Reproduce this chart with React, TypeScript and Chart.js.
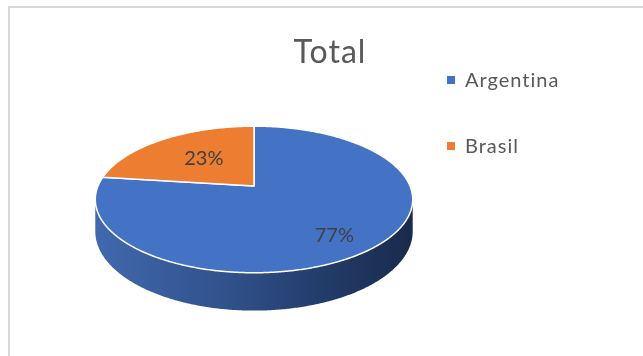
import React, { useEffect, useRef } from "react";
import { Chart, registerables } from "chart.js";

Chart.register(...registerables);

// ---- data ----
const categories: string[] = ["Argentina", "Brasil"];
const values: number[] = [77, 23];
const sliceColors: string[] = ["#4472C4", "#ED7D31"];
const sideStops: string[][] = [
  ["#4169ae", "#2f4f88", "#213a66", "#1a2a4c"],
  ["#d2722f", "#b15f26", "#8a481c", "#703a16"],
];
const titleText = "Total";

// ---- 3D projection parameters ----
const PERSP = 0.1837; // perspective strength
const FLAT = 0.454; // vertical flattening of the disk
const DEPTH = 0.198; // thickness relative to radius

function proj(cx: number, cy: number, R: number, a: number, f: number, drop: number) {
  const u = f * Math.cos(a);
  const d = f * Math.sin(a);
  const s = 1 / (1 - PERSP * d);
  return { x: cx + R * u * s, y: cy + FLAT * R * d * s + drop * R * s };
}

const pie3d = {
  id: "pie3d",
  beforeDatasetsDraw(chart: any, _args: any, opts: any) {
    const ctx: CanvasRenderingContext2D = chart.ctx;
    const meta = chart.getDatasetMeta(0);
    const arcs = meta.data as any[];
    if (!arcs.length) return false;
    const cx = arcs[0].x;
    const cy = arcs[0].y;
    const R = arcs[0].outerRadius;
    const lo = Math.asin(PERSP);
    const hi = Math.PI - lo;
    const step = Math.PI / 360;

    ctx.save();
    // side walls
    arcs.forEach((arc: any, i: number) => {
      const s = Math.max(arc.startAngle, lo);
      const e = Math.min(arc.endAngle, hi);
      if (e <= s) return;
      const g = ctx.createLinearGradient(cx - R * 1.02, 0, cx + R * 1.02, 0);
      const stops = sideStops[i % sideStops.length];
      g.addColorStop(0, stops[0]);
      g.addColorStop(0.45, stops[1]);
      g.addColorStop(0.75, stops[2]);
      g.addColorStop(1, stops[3]);
      ctx.beginPath();
      let p = proj(cx, cy, R, s, 1, 0);
      ctx.moveTo(p.x, p.y);
      for (let a = s; a <= e; a += step) {
        p = proj(cx, cy, R, a, 1, 0);
        ctx.lineTo(p.x, p.y);
      }
      p = proj(cx, cy, R, e, 1, 0);
      ctx.lineTo(p.x, p.y);
      for (let a = e; a >= s; a -= step) {
        p = proj(cx, cy, R, a, 1, DEPTH);
        ctx.lineTo(p.x, p.y);
      }
      p = proj(cx, cy, R, s, 1, DEPTH);
      ctx.lineTo(p.x, p.y);
      ctx.closePath();
      ctx.fillStyle = g;
      ctx.fill();
    });

    // top faces
    arcs.forEach((arc: any, i: number) => {
      ctx.beginPath();
      const v = proj(cx, cy, R, 0, 0, 0);
      ctx.moveTo(v.x, v.y);
      for (let a = arc.startAngle; a <= arc.endAngle; a += step) {
        const p = proj(cx, cy, R, a, 1, 0);
        ctx.lineTo(p.x, p.y);
      }
      const pe = proj(cx, cy, R, arc.endAngle, 1, 0);
      ctx.lineTo(pe.x, pe.y);
      ctx.closePath();
      ctx.fillStyle = sliceColors[i % sliceColors.length];
      ctx.fill();
      ctx.lineWidth = 1.5;
      ctx.lineJoin = "round";
      ctx.strokeStyle = "#ffffff";
      ctx.stroke();
    });

    // data labels
    const total = values.reduce((s, v) => s + v, 0);
    ctx.font = "20px Lato";
    ctx.fillStyle = "#404040";
    ctx.textAlign = "center";
    ctx.textBaseline = "alphabetic";
    arcs.forEach((arc: any, i: number) => {
      const mid = (arc.startAngle + arc.endAngle) / 2;
      const p = proj(cx, cy, R, mid, 0.75, 0);
      const n = (opts.labelNudge && opts.labelNudge[i]) || [0, 0];
      const pct = Math.round((values[i] / total) * 100) + "%";
      ctx.fillText(pct, p.x + n[0], p.y + n[1]);
    });

    // title
    (ctx as any).letterSpacing = "1px";
    ctx.font = "32px Lato";
    ctx.fillStyle = "#595959";
    ctx.textAlign = "center";
    ctx.fillText(titleText, opts.titleX, opts.titleY);

    // legend
    (ctx as any).letterSpacing = "1px";
    ctx.font = "20px Lato";
    ctx.textAlign = "left";
    categories.forEach((c, i) => {
      const y = opts.legendY + i * opts.legendGap;
      ctx.fillStyle = sliceColors[i % sliceColors.length];
      ctx.fillRect(opts.legendX, y - 4, 8, 8);
      ctx.fillStyle = "#595959";
      ctx.fillText(c, opts.legendX + 18, y + 7);
    });
    (ctx as any).letterSpacing = "0px";
    ctx.restore();
    return false;
  },
};

export default function App() {
  const ref = useRef<HTMLCanvasElement | null>(null);
  useEffect(() => {
    if (!ref.current) return;
    const chart = new Chart(ref.current, {
      type: "pie",
      data: {
        labels: categories,
        datasets: [
          {
            data: values,
            backgroundColor: sliceColors,
            borderWidth: 0,
          },
        ],
      },
      options: {
        responsive: false,
        animation: false,
        events: [],
        layout: { padding: { left: 98, right: 233, top: 30, bottom: 14 } },
        plugins: {
          legend: { display: false },
          title: { display: false },
          tooltip: { enabled: false },
          pie3d: {
            labelNudge: [
              [-6, 12],
              [20, 15],
            ],
            titleX: 330,
            titleY: 63,
            legendX: 447,
            legendY: 80,
            legendGap: 66,
          },
        } as any,
      },
      plugins: [pie3d as any],
    });
    return () => chart.destroy();
  }, []);

  return (
    <>
      <div
        style={{
          position: "absolute",
          left: 8,
          top: 6,
          width: 640,
          height: 355,
          borderTop: "2px solid #d9d9d9",
          borderLeft: "2px solid #d9d9d9",
          background: "#ffffff",
        }}
      />
      <canvas
        ref={ref}
        width={643}
        height={356}
        style={{ position: "absolute", left: 0, top: 0, display: "block" }}
      />
    </>
  );
}
